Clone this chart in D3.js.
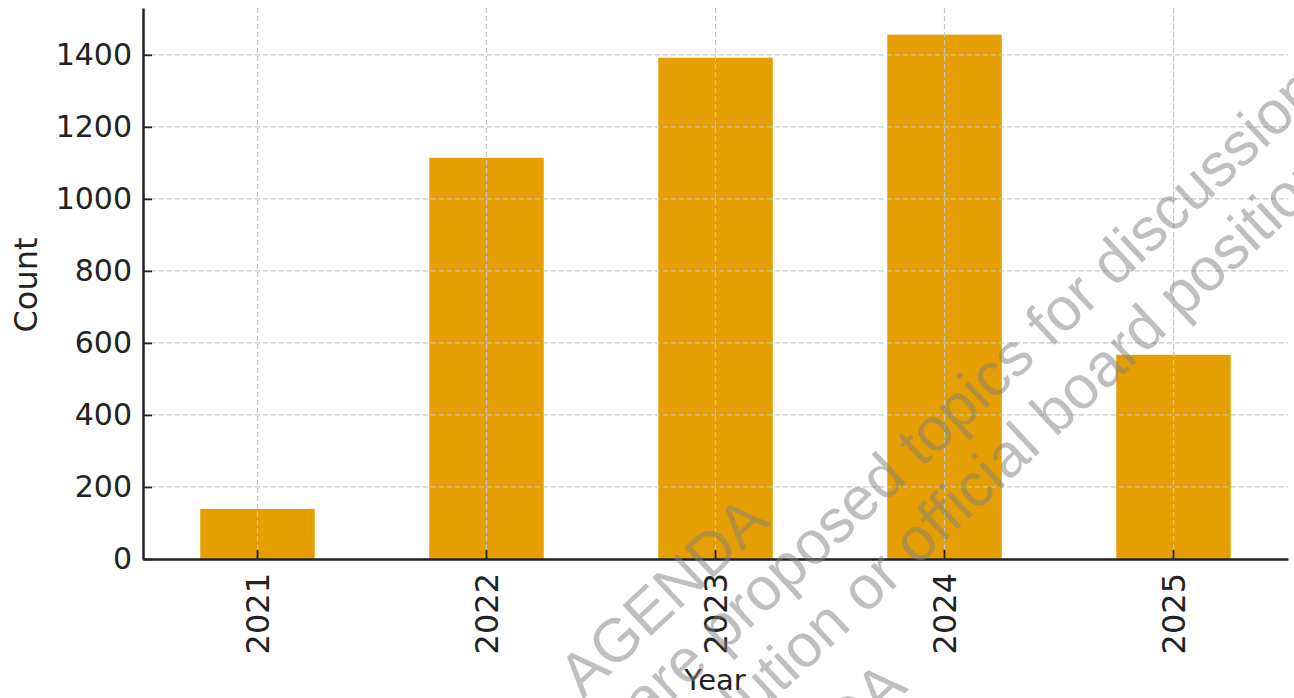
<!DOCTYPE html>
<html>
<head>
<meta charset="utf-8">
<script src="https://cdn.jsdelivr.net/npm/d3@7"></script>
<style>
  html, body { margin: 0; padding: 0; background: #fff; }
  svg { display: block; }
</style>
</head>
<body>
<div id="chart"></div>
<script>
// chart data
var years = ["2021", "2022", "2023", "2024", "2025"];
var counts = [139, 1114, 1392, 1456, 567];
var yTicks = [0, 200, 400, 600, 800, 1000, 1200, 1400];

// watermark lines
var wmLines = [
  "AGENDA",
  "These are proposed topics for discussion",
  "only, not a resolution or official board position",
  "AGENDA"
];

var w = 1294,
    h = 698,
    padLeft = 143,
    padRight = 1288,
    axisY = 559,
    plotTop = 8;

var svg = d3.select("#chart")
    .append("svg")
    .attr("width", w)
    .attr("height", h);

var xScale = d3.scaleBand()
    .domain(years)
    .range([padLeft, padRight])
    .paddingInner(0.5)
    .paddingOuter(0.25);

var yScale = d3.scaleLinear()
    .domain([0, 1530])
    .range([axisY, plotTop]);

// title (cut off at the top, only descenders graze the edge)
svg.append("text")
    .attr("x", 715)
    .attr("y", -6)
    .attr("text-anchor", "middle")
    .attr("font-family", "DejaVu Sans")
    .attr("font-size", "30px")
    .attr("fill", "#222")
    .text("Proposed Agenda Topics Flagged by Year (2021\u20132025)");

// bars
svg.selectAll("rect.bar")
    .data(counts)
    .enter()
    .append("rect")
    .attr("class", "bar")
    .attr("x", function (d, i) { return xScale(years[i]); })
    .attr("y", function (d) { return yScale(d); })
    .attr("width", xScale.bandwidth())
    .attr("height", function (d) { return axisY - yScale(d); })
    .attr("fill", "#E69F00");

// grid on top of bars
var grid = svg.append("g")
    .attr("stroke", "#c4c4c4")
    .attr("stroke-width", 1.2)
    .attr("stroke-dasharray", "5,3");

grid.selectAll("line.h")
    .data(yTicks)
    .enter()
    .append("line")
    .attr("x1", padLeft)
    .attr("x2", padRight)
    .attr("y1", function (d) { return yScale(d); })
    .attr("y2", function (d) { return yScale(d); });

grid.selectAll("line.v")
    .data(years)
    .enter()
    .append("line")
    .attr("x1", function (d) { return xScale(d) + xScale.bandwidth() / 2; })
    .attr("x2", function (d) { return xScale(d) + xScale.bandwidth() / 2; })
    .attr("y1", plotTop)
    .attr("y2", axisY);

// axes
var yAxis = d3.axisLeft(yScale)
    .tickValues(yTicks)
    .tickFormat(d3.format("d"))
    .tickSizeInner(-9)
    .tickSizeOuter(0)
    .tickPadding(11);

var xAxis = d3.axisBottom(xScale)
    .tickSizeInner(-9)
    .tickSizeOuter(0)
    .tickPadding(12);

var gy = svg.append("g")
    .attr("transform", "translate(" + padLeft + ",0)")
    .call(yAxis);

var gx = svg.append("g")
    .attr("transform", "translate(0," + axisY + ")")
    .call(xAxis);

[gx, gy].forEach(function (g) {
    g.select(".domain").attr("stroke", "#222").attr("stroke-width", 2.5);
    g.selectAll(".tick line").attr("stroke", "#222").attr("stroke-width", 1.8);
    g.selectAll(".tick text")
        .attr("fill", "#222")
        .attr("font-family", "DejaVu Sans");
});

gy.selectAll(".tick text").attr("font-size", "30px");

gx.selectAll(".tick text")
    .attr("font-size", "32px")
    .attr("transform", "rotate(-90)")
    .attr("text-anchor", "end")
    .attr("x", -14)
    .attr("y", 0)
    .attr("dy", "0.35em");

// axis titles
svg.append("text")
    .attr("x", 715)
    .attr("y", 690)
    .attr("text-anchor", "middle")
    .attr("font-family", "DejaVu Sans")
    .attr("font-size", "29px")
    .attr("fill", "#222")
    .text("Year");

svg.append("text")
    .attr("transform", "translate(37,285) rotate(-90)")
    .attr("text-anchor", "middle")
    .attr("font-family", "DejaVu Sans")
    .attr("font-size", "32px")
    .attr("fill", "#222")
    .text("Count");

// watermark: lines rotated 43deg, frame origin at start of "official"
var wm = svg.append("g")
    .attr("transform", "translate(917,567) rotate(-43)")
    .attr("font-family", "Liberation Sans")
    .attr("font-size", "61px")
    .attr("fill", "rgba(128,128,128,0.5)");

// [line index, baseline offset, anchor word, position, anchor at word end?]
var wmPlace = [
  [0, -131, "AGENDA", -77, true],
  [1, -69, "topics", 70, false],
  [2, 0, "official", 0, false],
  [3, 84, "AGENDA", -89, true]
];

wmPlace.forEach(function (p) {
    var line = wmLines[p[0]];
    var t = wm.append("text")
        .attr("y", p[1])
        .text(line);
    var idx = line.indexOf(p[2]);
    var pre = idx > 0 ? t.node().getSubStringLength(0, idx) : 0;
    if (p[4]) pre += t.node().getSubStringLength(idx, p[2].length);
    t.attr("x", p[3] - pre);
});
</script>
</body>
</html>
